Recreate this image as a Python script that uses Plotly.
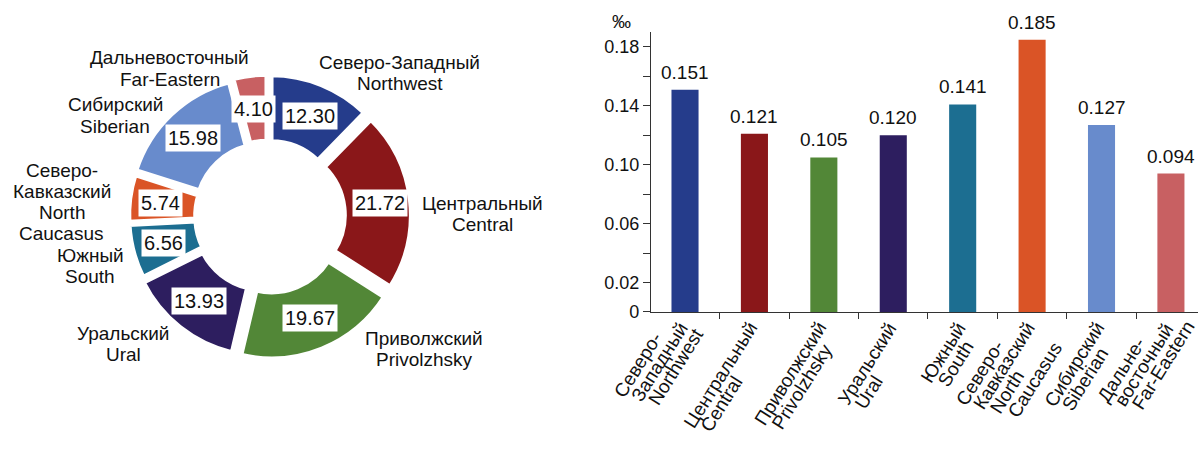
import math
import plotly.graph_objects as go

# ---- data -------------------------------------------------------------
region_en = ["Northwest", "Central", "Privolzhsky", "Ural",
             "South", "North Caucasus", "Siberian", "Far-Eastern"]
share_pct = [12.30, 21.72, 19.67, 13.93, 6.56, 5.74, 15.98, 4.10]
rate_permille = [0.151, 0.121, 0.105, 0.120, 0.141, 0.185, 0.127, 0.094]

# label text, split into lines
pie_label_lines = [
    ["Северо-Западный", "Northwest"],
    ["Центральный", "Central"],
    ["Приволжский", "Privolzhsky"],
    ["Уральский", "Ural"],
    ["Южный", "South"],
    ["Северо-", "Кавказский", "North", "Caucasus"],
    ["Сибирский", "Siberian"],
    ["Дальневосточный", "Far-Eastern"],
]
bar_tick_lines = [
    ["Северо-", "Западный", "Northwest"],
    ["Центральный", "Central"],
    ["Приволжский", "Privolzhsky"],
    ["Уральский", "Ural"],
    ["Южный", "South"],
    ["Северо-", "Кавказский", "North", "Caucasus"],
    ["Сибирский", "Siberian"],
    ["Дальне-", "восточный", "Far-Eastern"],
]
y_tick_vals = [0, 0.02, 0.04, 0.06, 0.08, 0.10, 0.12, 0.14, 0.16, 0.18]
y_tick_text = ["0", "0.02", "", "0.06", "", "0.10", "", "0.14", "", "0.18"]

# ---- styling ------------------------------------------------------------
colors = ["#253c8b", "#8a1719", "#528737", "#2d1e5f",
          "#1c6e91", "#da5426", "#688bcc", "#c86062"]
FONT = "Liberation Sans, Arial, sans-serif"
INK = "#111111"
W, H = 1198, 455

# donut geometry (pixels, origin top-left)
CX, CY = 268, 221
R_OUT = 137
HOLE = 0.50
pulls = [0.06, 0.07, 0.07, 0.06, 0.04, 0.04, 0.05, 0.06]
# outer label placement: (angle clockwise from 12 o'clock, radius px)
label_polar = [(42, 197), (89.5, 215), (131, 207), (228, 195),
               (254, 185), (274, 207), (304, 184), (327, 180)]
LINE_H = 21.5

# rotated category labels
TICK_FS = 19
TICK_ANGLE = 58
STEP_X, STEP_Y = 17, 4   # offset between successive lines of one label (px)
END_Y = 327              # top end of the anchor line, px from top
END_DX = -12             # end of the anchor line relative to the category centre

# approximate advance widths (1/1000 em) for Arial-metric fonts
_W = {
    "a": 556, "b": 556, "c": 500, "d": 556, "e": 556, "f": 278, "g": 556,
    "h": 556, "i": 222, "j": 222, "k": 500, "l": 222, "m": 833, "n": 556,
    "o": 556, "p": 556, "q": 556, "r": 333, "s": 500, "t": 278, "u": 556,
    "v": 500, "w": 722, "x": 500, "y": 500, "z": 500,
    "C": 722, "E": 667, "F": 611, "N": 722, "P": 667, "S": 667, "U": 722,
    "-": 333,
    "а": 556, "б": 573, "в": 531, "д": 583, "е": 556, "ж": 669, "з": 458,
    "и": 559, "й": 559, "к": 438, "л": 583, "н": 552, "о": 556, "п": 542,
    "р": 556, "с": 500, "т": 458, "ч": 521, "ы": 719, "ь": 521,
    "Д": 677, "З": 604, "К": 583, "П": 719, "С": 722, "У": 635, "Ц": 740,
    "Ю": 1010,
}


def text_width(s, size):
    return sum(_W.get(ch, 556) for ch in s) / 1000 * size


def px(x):
    return x / W


def py(y):
    return 1 - y / H


half = R_OUT * (1 + max(pulls))

fig = go.Figure()

fig.add_trace(go.Pie(
    values=share_pct,
    labels=region_en,
    sort=False,
    direction="clockwise",
    rotation=0,
    hole=HOLE,
    pull=pulls,
    textinfo="none",
    marker=dict(colors=colors, line=dict(color="white", width=5)),
    domain=dict(x=[px(CX - half), px(CX + half)],
                y=[py(CY + half), py(CY - half)]),
    showlegend=False,
    hoverinfo="label+value",
))

annotations = []

# value boxes inside the ring, at each slice's mid-angle
total = sum(share_pct)
cum = 0.0
for v, p in zip(share_pct, pulls):
    a = math.radians(360 * (cum + v / 2) / total)
    cum += v
    r = (R_OUT * HOLE + R_OUT) / 2 + p * R_OUT
    x = CX + r * math.sin(a)
    y = CY - r * math.cos(a)
    annotations.append(dict(
        x=px(x), y=py(y), xref="paper", yref="paper",
        text=f"{v:.2f}", showarrow=False,
        font=dict(family=FONT, size=20, color=INK),
        bgcolor="white", borderpad=2,
        xanchor="center", yanchor="middle",
    ))

# region names around the donut
for lines, (ang, rad) in zip(pie_label_lines, label_polar):
    a = math.radians(ang)
    bx = CX + rad * math.sin(a)
    by = CY - rad * math.cos(a)
    n = len(lines)
    for i, line in enumerate(lines):
        ly = by + (i - (n - 1) / 2) * LINE_H
        annotations.append(dict(
            x=px(bx), y=py(ly), xref="paper", yref="paper",
            text=line, showarrow=False,
            font=dict(family=FONT, size=19, color=INK),
            xanchor="center", yanchor="middle",
        ))

# ---- bar chart ----------------------------------------------------------
categories = [" ".join(lines) for lines in bar_tick_lines]

fig.add_trace(go.Bar(
    x=categories,
    y=rate_permille,
    marker=dict(color=colors, line=dict(width=0)),
    width=0.39,
    showlegend=False,
    xaxis="x", yaxis="y",
))

for cat, v in zip(categories, rate_permille):
    annotations.append(dict(
        x=cat, y=v, xref="x", yref="y",
        text=f"{v:.3f}", showarrow=False,
        font=dict(family=FONT, size=19, color=INK),
        xanchor="center", yanchor="bottom", yshift=5,
    ))

# rotated category labels, one annotation per line.  The middle line of each
# label ends just under the axis; the other lines start level with it.
ca = math.cos(math.radians(TICK_ANGLE))
sa = math.sin(math.radians(TICK_ANGLE))
box_h = TICK_FS * 1.2 + 2
for cat, lines in zip(categories, bar_tick_lines):
    ja = (len(lines) - 1) // 2
    la = text_width(lines[ja], TICK_FS)
    # bottom-left corner of the anchor line
    blx = END_DX - la * ca + box_h * sa
    bly = END_Y + la * sa + box_h * ca
    for j, line in enumerate(lines):
        bx = blx + (j - ja) * STEP_X
        by = bly + (j - ja) * STEP_Y
        annotations.append(dict(
            x=cat, xref="x", y=py(by), yref="paper",
            text=line, textangle=-TICK_ANGLE, showarrow=False,
            font=dict(family=FONT, size=TICK_FS, color=INK),
            xanchor="left", yanchor="bottom",
            xshift=bx - box_h * sa, borderpad=0,
        ))

annotations.append(dict(
    x=px(621), y=py(22), xref="paper", yref="paper",
    text="‰", showarrow=False,
    font=dict(family=FONT, size=19, color=INK),
    xanchor="center", yanchor="middle",
))

fig.update_layout(
    width=W, height=H,
    margin=dict(l=0, r=0, t=0, b=0),
    paper_bgcolor="white",
    plot_bgcolor="white",
    font=dict(family=FONT, color=INK),
    annotations=annotations,
    xaxis=dict(
        domain=[px(651), 1.0],
        type="category",
        range=[-0.49, 7.39],
        tickson="boundaries",
        ticks="outside", ticklen=6, tickcolor="#333333", tickwidth=1.3,
        showline=True, linecolor="#333333", linewidth=1.3,
        showticklabels=False,
        showgrid=False, zeroline=False,
        anchor="y",
    ),
    yaxis=dict(
        domain=[py(319), py(33)],
        range=[0, 0.19],
        tickvals=y_tick_vals, ticktext=y_tick_text,
        ticks="outside", ticklen=7, tickcolor="#333333", tickwidth=1.3,
        showline=True, linecolor="#333333", linewidth=1.3,
        tickfont=dict(family=FONT, size=18, color=INK),
        showgrid=False, zeroline=False,
        anchor="x",
    ),
)

fig.write_html("out.html")
